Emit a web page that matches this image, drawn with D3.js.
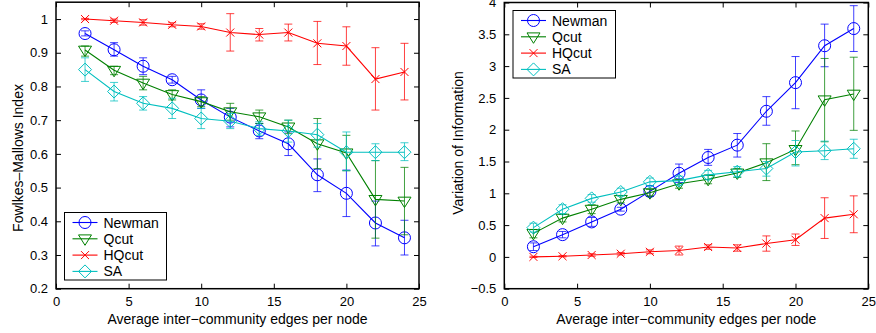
<!DOCTYPE html>
<html><head><meta charset="utf-8">
<script src="https://cdn.jsdelivr.net/npm/d3@7"></script>
<style>body{margin:0;background:#fff}svg{display:block}text{font-family:"Liberation Sans",Arial,sans-serif;fill:#000}</style>
</head><body><svg id="c" width="876" height="333"></svg>
<script>
const xs = [2,4,6,8,10,12,14,16,18,20,22,24];
const seriesNames = ["Newman","Qcut","HQcut","SA"];
const colors = ["#0000ff","#008000","#ff0000","#00bfbf"];
const markers = ["circle","triangle","x","diamond"];

// Fowlkes-Mallows Index: mean, lower, upper
const fmNewman = [0.957,0.909,0.860,0.820,0.760,0.709,0.668,0.630,0.538,0.483,0.395,0.351];
const fmNewmanLo = [0.950,0.890,0.835,0.810,0.735,0.680,0.645,0.595,0.488,0.414,0.327,0.300];
const fmNewmanHi = [0.965,0.930,0.885,0.830,0.790,0.735,0.690,0.665,0.585,0.552,0.460,0.403];
const fmQcut = [0.908,0.848,0.810,0.776,0.755,0.725,0.710,0.680,0.630,0.603,0.465,0.460];
const fmQcutLo = [0.890,0.835,0.790,0.760,0.740,0.700,0.690,0.660,0.556,0.550,0.350,0.360];
const fmQcutHi = [0.920,0.860,0.830,0.790,0.770,0.750,0.730,0.700,0.705,0.655,0.580,0.560];
const fmHQ = [1.000,0.995,0.990,0.983,0.978,0.960,0.954,0.960,0.928,0.920,0.822,0.843];
const fmHQLo = [0.998,0.990,0.982,0.977,0.970,0.905,0.935,0.935,0.865,0.863,0.730,0.760];
const fmHQHi = [1.002,1.000,0.998,0.989,0.986,1.016,0.972,0.985,0.993,0.977,0.915,0.928];
const fmSA = [0.850,0.785,0.750,0.735,0.705,0.697,0.675,0.668,0.657,0.605,0.605,0.605];
const fmSALo = [0.815,0.757,0.730,0.705,0.675,0.675,0.655,0.635,0.620,0.550,0.580,0.580];
const fmSAHi = [0.885,0.812,0.770,0.765,0.735,0.720,0.695,0.700,0.690,0.665,0.630,0.633];

// Variation of Information: mean, lower, upper
const viNewman = [0.16,0.35,0.55,0.75,1.03,1.315,1.563,1.757,2.29,2.74,3.32,3.59];
const viNewmanLo = [0.10,0.30,0.48,0.72,0.95,1.17,1.44,1.57,2.07,2.33,2.99,3.23];
const viNewmanHi = [0.22,0.40,0.62,0.78,1.12,1.46,1.69,1.94,2.52,3.15,3.66,3.95];
const viQcut = [0.37,0.61,0.75,0.905,1.01,1.15,1.22,1.32,1.48,1.69,2.47,2.56];
const viQcutLo = [0.30,0.55,0.68,0.85,0.96,1.08,1.15,1.25,1.20,1.45,1.81,1.99];
const viQcutHi = [0.43,0.67,0.82,0.96,1.06,1.22,1.29,1.39,1.78,1.98,3.12,3.14];
const viHQ = [0.00,0.01,0.03,0.05,0.08,0.10,0.155,0.14,0.21,0.27,0.61,0.67];
const viHQLo = [-0.01,0.00,0.01,0.03,0.05,0.03,0.12,0.09,0.09,0.18,0.29,0.38];
const viHQHi = [0.01,0.02,0.05,0.07,0.11,0.17,0.19,0.19,0.33,0.36,0.93,0.96];
const viSA = [0.46,0.75,0.92,1.02,1.18,1.20,1.29,1.34,1.39,1.65,1.67,1.70];
const viSALo = [0.39,0.68,0.86,0.96,1.12,1.13,1.22,1.26,1.27,1.43,1.53,1.55];
const viSAHi = [0.53,0.82,0.98,1.08,1.24,1.27,1.36,1.42,1.50,1.83,1.82,1.85];

const xTicks = [0,5,10,15,20,25];
const fmTicks = [0.2,0.3,0.4,0.5,0.6,0.7,0.8,0.9,1];
const viTicks = [-0.5,0,0.5,1,1.5,2,2.5,3,3.5,4];

const svg = d3.select("#c");
const TICK_FS = "13px", LABEL_FS = "14px";

function drawMarker(g, type, color, x, y) {
  if (type === "circle") {
    g.append("circle").attr("cx", x).attr("cy", y).attr("r", 6)
      .attr("fill", "none").attr("stroke", color).attr("stroke-width", 1);
  } else if (type === "triangle") {
    const s = 6.5;
    g.append("path").attr("d", `M${x-s},${y-s*0.6}L${x+s},${y-s*0.6}L${x},${y+s}Z`)
      .attr("fill", "none").attr("stroke", color).attr("stroke-width", 1);
  } else if (type === "diamond") {
    const s = 6.5;
    g.append("path").attr("d", `M${x},${y-s}L${x+s},${y}L${x},${y+s}L${x-s},${y}Z`)
      .attr("fill", "none").attr("stroke", color).attr("stroke-width", 1);
  } else if (type === "x") {
    const s = 4;
    g.append("path").attr("d", `M${x-s},${y-s}L${x+s},${y+s}M${x-s},${y+s}L${x+s},${y-s}`)
      .attr("fill", "none").attr("stroke", color).attr("stroke-width", 1);
  }
}

function panel(opts) {
  const {x0, x1, y0, y1, yDomain, yTicks, series, ylabel, ylabelX, ylabelY, legend, fmt} = opts;
  const x = d3.scaleLinear().domain([0, 25]).range([x0, x1]);
  const y = d3.scaleLinear().domain(yDomain).range([y1, y0]);
  const g = svg.append("g");

  series.forEach((s, i) => {
    const c = colors[i];
    const sg = g.append("g");
    xs.forEach((xv, k) => {
      const px = x(xv);
      sg.append("path")
        .attr("d", `M${px},${y(s.lo[k])}L${px},${y(s.hi[k])}M${px-4},${y(s.lo[k])}L${px+4},${y(s.lo[k])}M${px-4},${y(s.hi[k])}L${px+4},${y(s.hi[k])}`)
        .attr("stroke", c).attr("stroke-width", 1).attr("fill", "none").attr("opacity", 0.75);
    });
    const line = d3.line().x((d, k) => x(xs[k])).y(d => y(d));
    sg.append("path").attr("d", line(s.v)).attr("fill", "none").attr("stroke", c).attr("stroke-width", 1.1);
    s.v.forEach((v, k) => drawMarker(sg, markers[i], c, x(xs[k]), y(v)));
  });

  const axB = d3.axisBottom(x).tickValues(xTicks).tickSize(-5).tickPadding(8).tickFormat(d3.format("d"));
  const axT = d3.axisTop(x).tickValues(xTicks).tickSize(-5).tickFormat("");
  const axL = d3.axisLeft(y).tickValues(yTicks).tickSize(-5).tickPadding(8).tickFormat(fmt);
  const axR = d3.axisRight(y).tickValues(yTicks).tickSize(-5).tickFormat("");
  const ga = g.append("g");
  ga.append("g").attr("transform", `translate(0,${y1})`).call(axB);
  ga.append("g").attr("transform", `translate(0,${y0})`).call(axT);
  ga.append("g").attr("transform", `translate(${x0},0)`).call(axL);
  ga.append("g").attr("transform", `translate(${x1},0)`).call(axR);
  ga.selectAll(".domain").remove();
  ga.selectAll("text").style("font-size", TICK_FS).style("font-family", '"Liberation Sans",Arial,sans-serif');
  ga.selectAll(".tick line").attr("stroke", "#000");
  ga.append("rect").attr("x", x0).attr("y", y0).attr("width", x1 - x0).attr("height", y1 - y0)
    .attr("fill", "none").attr("stroke", "#000").attr("stroke-width", 1.5);

  g.append("text").attr("x", (x0 + x1) / 2).attr("y", 324).attr("text-anchor", "middle")
    .style("font-size", LABEL_FS).text("Average inter\u2212community edges per node");
  g.append("text").attr("transform", `translate(${ylabelX},${ylabelY}) rotate(-90)`)
    .attr("text-anchor", "middle").style("font-size", LABEL_FS).text(ylabel);

  const lg = g.append("g").attr("transform", `translate(${legend.x},${legend.y})`);
  lg.append("rect").attr("width", legend.w).attr("height", legend.h).attr("fill", "#fff")
    .attr("stroke", "#000").attr("stroke-width", 1);
  seriesNames.forEach((n, i) => {
    const yy = 10 + i * 16.3;
    lg.append("line").attr("x1", 8).attr("x2", 33).attr("y1", yy).attr("y2", yy)
      .attr("stroke", colors[i]).attr("stroke-width", 1.1);
    drawMarker(lg, markers[i], colors[i], 20.5, yy);
    lg.append("text").attr("x", 39).attr("y", yy + 5).style("font-size", LABEL_FS).text(n);
  });
}

panel({
  x0: 56, x1: 419, y0: 2.2, y1: 288.7, yDomain: [0.2, 1.05], yTicks: fmTicks,
  fmt: d => d === 1 ? "1" : d3.format(".1f")(d),
  series: [
    {v: fmNewman, lo: fmNewmanLo, hi: fmNewmanHi},
    {v: fmQcut, lo: fmQcutLo, hi: fmQcutHi},
    {v: fmHQ, lo: fmHQLo, hi: fmHQHi},
    {v: fmSA, lo: fmSALo, hi: fmSAHi}
  ],
  ylabel: "Fowlkes\u2013Mallows Index", ylabelX: 23, ylabelY: 158,
  legend: {x: 64.5, y: 212.5, w: 102, h: 67.5}
});

panel({
  x0: 504.3, x1: 868.3, y0: 2.5, y1: 288.7, yDomain: [-0.5, 4], yTicks: viTicks,
  fmt: d => d === -0.5 ? "\u22120.5" : String(d),
  series: [
    {v: viNewman, lo: viNewmanLo, hi: viNewmanHi},
    {v: viQcut, lo: viQcutLo, hi: viQcutHi},
    {v: viHQ, lo: viHQLo, hi: viHQHi},
    {v: viSA, lo: viSALo, hi: viSAHi}
  ],
  ylabel: "Variation of Information", ylabelX: 463, ylabelY: 143,
  legend: {x: 513, y: 10.5, w: 102.5, h: 67.5}
});
</script></body></html>
